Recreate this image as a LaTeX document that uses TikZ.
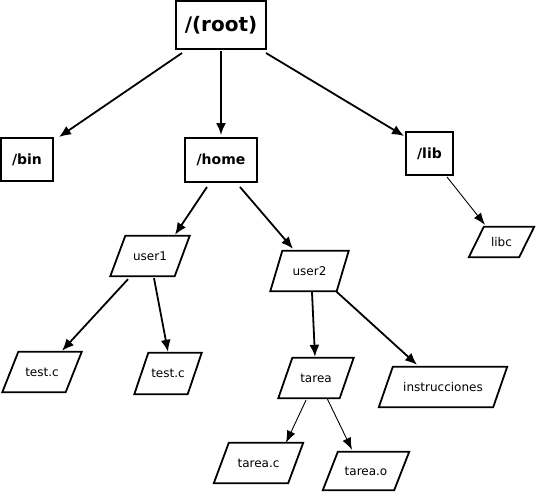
\documentclass[tikz,border=0pt]{standalone}
\usepackage{fontspec}
\setmainfont{DejaVu Sans}
\usetikzlibrary{arrows.meta}
\newcommand\mypara[7]{%
  \node[paratext,minimum width=#4pt,minimum height=#5pt] (#1) at (#2,#3) {#7};
  \draw[parashape] ([xshift=-0.5*#6pt]#1.south west) -- ([xshift=0.5*#6pt]#1.north west)
    -- ([xshift=0.5*#6pt]#1.north east) -- ([xshift=-0.5*#6pt]#1.south east) -- cycle;}
\begin{document}
\begin{tikzpicture}[x=1pt,y=-1pt,
  box/.style={draw,line width=2pt,font=\bfseries\fontsize{14}{16}\selectfont,inner sep=0pt},
  paratext/.style={inner sep=0pt,font=\fontsize{12}{14}\selectfont},
  parashape/.style={line width=1.8pt,line join=miter},
  arrowA/.style={line width=1.8pt,-{Latex[length=12pt,width=10pt]}},
  arrowB/.style={line width=0.9pt,-{Latex[length=12pt,width=9pt]}}]
\useasboundingbox (0,0) rectangle (536,495);
\node[box,minimum width=90pt,minimum height=48pt,font=\bfseries\fontsize{20}{24}\selectfont] (root) at (221,25) {/(root)};
\node[box,minimum width=52pt,minimum height=43pt] (bin) at (27,159.5) {/bin};
\node[box,minimum width=72pt,minimum height=44pt] (home) at (221,160) {/home};
\node[box,minimum width=47pt,minimum height=43pt] (lib) at (429.5,153.5) {/lib};
\mypara{libc}{501.5}{242}{50}{30}{15}{libc}
\mypara{user1}{150}{256}{64}{40}{15}{user1}
\mypara{user2}{309.5}{271}{66}{40}{12}{user2}
\mypara{testa}{42}{372}{63}{40}{16}{test.c}
\mypara{testb}{168}{373.5}{53}{41}{14}{test.c}
\mypara{tarea}{316}{378}{61}{40}{14}{tarea}
\mypara{instr}{443}{387}{114}{40}{14}{instrucciones}
\mypara{tareac}{258.5}{463}{74}{40}{15}{tarea.c}
\mypara{tareao}{366}{471}{71}{38}{15}{tarea.o}
\draw[arrowA] ([shift={(7,3)}]root.south west) -- ([shift={(5,0)}]bin.north east);
\draw[arrowA] ([shift={(0,1)}]root.south) -- ([shift={(0,-2)}]home.north);
\draw[arrowA] ([shift={(-1,3)}]root.south east) -- ([shift={(-1,5)}]lib.north west);
\draw[arrowA] ([shift={(-14,4)}]home.south) -- ([shift={(25,-1)}]user1.north);
\draw[arrowA] ([shift={(19,4)}]home.south) -- ([shift={(-16.5,-2)}]user2.north);
\draw[arrowB] ([shift={(17.5,1)}]lib.south) -- ([shift={(-16.5,-2)}]libc.north);
\draw[arrowA] ([shift={(-22,3)}]user1.south) -- ([shift={(20,-1)}]testa.north);
\draw[arrowA] ([shift={(4,2)}]user1.south) -- ([shift={(0,-1)}]testb.north);
\draw[arrowA] ([shift={(2.5,1)}]user2.south) -- ([shift={(-1,-1)}]tarea.north);
\draw[arrowA] ([shift={(26.5,0)}]user2.south) -- ([shift={(-26,-2)}]instr.north);
\draw[arrowB] ([shift={(-10,2)}]tarea.south) -- ([shift={(27.5,0)}]tareac.north);
\draw[arrowB] ([shift={(11,0)}]tarea.south) -- ([shift={(-14,-2)}]tareao.north);
\end{tikzpicture}
\end{document}
